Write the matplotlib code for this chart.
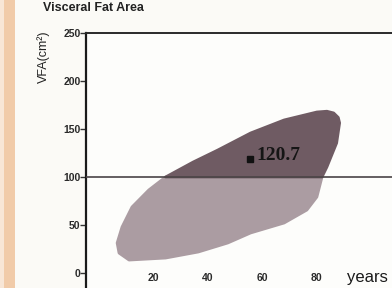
import matplotlib
matplotlib.use("Agg")
import matplotlib.pyplot as plt
from matplotlib.patches import Polygon, Rectangle

# ---- data ----
# lower (light) region, age vs VFA, traced clockwise
lower_age = [24.4, 18.2, 12.0, 8.3, 6.5, 7.2, 10.9, 24.4, 36.5, 47.4, 55.8, 68.2, 76.6, 80.3, 82.2]
lower_vfa = [100, 86.5, 68.8, 47.9, 31.3, 20.8, 13.5, 15.6, 21.9, 31.3, 41.7, 52.1, 65.6, 79.2, 100]
# upper (dark) region, above the 100 cm2 line
upper_age = [24.4, 34.6, 43.7, 55.8, 68.2, 80.3, 84.0, 86.5, 88.2, 88.7, 87.6, 84.0, 82.2]
upper_vfa = [100, 115.6, 128.1, 145.8, 159.4, 167.7, 168.5, 166.7, 162.0, 156.3, 135.4, 110.4, 100]
threshold = 100
marker_age = [55.5]
marker_vfa = [118.8]
marker_label = "120.7"
yticks = [0, 50, 100, 150, 200, 250]
xticks = [20, 40, 60, 80]
xtick_labels = ["20", "40", "60", "80"]

W, H = 392, 288
fig = plt.figure(figsize=(W / 100, H / 100), dpi=100)
fig.patch.set_facecolor("#fbfaf6")

# peach strip on the left
fig.patches.append(Rectangle((4 / W, 0), 11 / W, 1, transform=fig.transFigure,
                             facecolor="#f1cba9", edgecolor="none", zorder=0))
fig.patches.append(Rectangle((0, 0), 4 / W, 1, transform=fig.transFigure,
                             facecolor="#f8e6d6", edgecolor="none", zorder=0))

ax = fig.add_axes([86 / W, 0, 1 - 86 / W + 0.01, 1 - 33 / H])
ax.set_facecolor("#fdfdfb")
ax.set_xlim(-5, 109.5)
ax.set_ylim((273 - 288) / 0.96, 250)

ax.add_patch(Polygon(list(zip(lower_age, lower_vfa)), closed=True,
                     facecolor="#ab9ca2", edgecolor="#ab9ca2", lw=2, joinstyle="round", zorder=2))
ax.add_patch(Polygon(list(zip(upper_age, upper_vfa)), closed=True,
                     facecolor="#6f5b63", edgecolor="#6f5b63", lw=2, joinstyle="round", zorder=2))
ax.axhline(threshold, color="#4a4446", lw=1.2, zorder=3)

ax.plot(marker_age, marker_vfa, marker="s", color="#111111", ms=4.5, ls="none", zorder=4)
ax.text(marker_age[0] + 2.3, marker_vfa[0] + 4, marker_label, fontsize=14, fontweight="bold",
        family="Liberation Serif", color="#151515", va="center", ha="left", zorder=5)

for s in ["right", "bottom"]:
    ax.spines[s].set_visible(False)
ax.spines["left"].set_color("#1a1a1a")
ax.spines["left"].set_linewidth(1.6)
ax.spines["top"].set_color("#2a2a2a")
ax.spines["top"].set_linewidth(1.4)

ax.set_yticks(yticks)
ax.set_yticklabels([str(v) for v in yticks], fontsize=7.5, fontweight="bold",
                   family="Liberation Sans", color="#2a2a2a")
ax.tick_params(axis="y", length=4, width=1, pad=0, color="#333333")
ax.set_xticks([])
for xv, lab in zip(xticks, xtick_labels):
    ax.text(xv, -5, lab, fontsize=7.5, fontweight="bold", family="Liberation Sans", color="#2a2a2a",
            ha="center", va="center", zorder=5)
ax.text(91.5, -4.5, "years", fontsize=12, family="Liberation Sans", color="#1a1a1a",
        ha="left", va="center", zorder=5)

fig.text(44 / W, 1 - 57 / H, "VFA(cm²)", rotation=90, fontsize=9, family="Liberation Sans",
         color="#222222", ha="center", va="center")
fig.text(43 / W, 1 - 2 / H, "Visceral Fat Area", fontsize=9, fontweight="bold",
         family="Liberation Sans", color="#222222", ha="left", va="top")

fig.savefig("out.png", dpi=100, facecolor=fig.get_facecolor())
